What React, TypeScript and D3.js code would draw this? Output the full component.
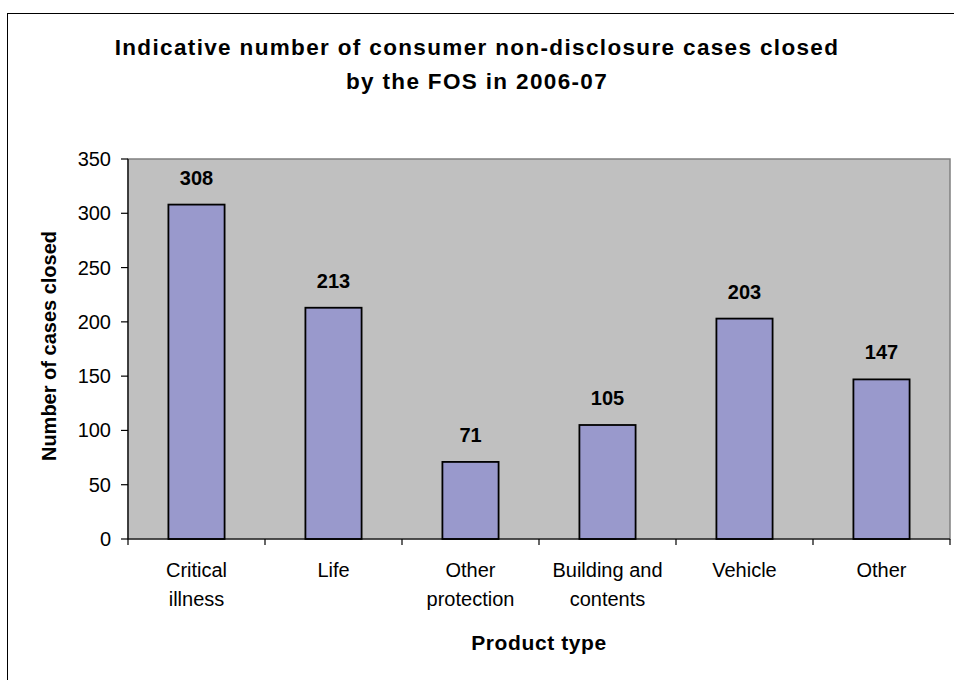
import React from 'react';
import * as d3 from 'd3';

const categories = [
  ['Critical', 'illness'],
  ['Life'],
  ['Other', 'protection'],
  ['Building and', 'contents'],
  ['Vehicle'],
  ['Other'],
];
const categoryKeys = ['Critical illness', 'Life', 'Other protection', 'Building and contents', 'Vehicle', 'Other'];
const casesClosed = [308, 213, 71, 105, 203, 147];
const yTicks = [0, 50, 100, 150, 200, 250, 300, 350];

const titleLines = [
  'Indicative number of consumer non-disclosure cases closed',
  'by the FOS in 2006-07',
];

const W = 954;
const H = 680;
const plot = { left: 128, top: 159, right: 950, bottom: 539 };
const font = '"Liberation Sans", Arial, Helvetica, sans-serif';

export default function App() {
  const x = d3.scaleBand<string>()
    .domain(categoryKeys)
    .range([plot.left, plot.right])
    .paddingInner(0.59)
    .paddingOuter(0.295);

  const y = d3.scaleLinear()
    .domain([0, 350])
    .range([plot.bottom, plot.top]);

  const step = x.step();
  const boundaries = d3.range(categoryKeys.length + 1).map(i => plot.left + i * step);

  return (
    <svg
      width={W}
      height={H}
      style={{ position: 'absolute', left: 0, top: 0, background: '#fff' }}
      fontFamily={font}
    >
      {/* chart area border */}
      <rect x={7.5} y={13.5} width={1000} height={700} fill="#fff" stroke="#000" strokeWidth={1} />

      {/* title */}
      <text x={477} textAnchor="middle" fontSize={22.5} fontWeight="bold" letterSpacing={1.35} fill="#000">
        {titleLines.map((line, i) => (
          <tspan key={i} x={477} y={55 + i * 34}>{line}</tspan>
        ))}
      </text>

      {/* plot area */}
      <rect
        x={plot.left}
        y={plot.top}
        width={plot.right - plot.left}
        height={plot.bottom - plot.top}
        fill="#C0C0C0"
        stroke="#808080"
        strokeWidth={1.5}
      />

      {/* bars */}
      {casesClosed.map((v, i) => (
        <rect
          key={categoryKeys[i]}
          x={x(categoryKeys[i])}
          y={y(v)}
          width={x.bandwidth()}
          height={y(0) - y(v)}
          fill="#9999CC"
          stroke="#000"
          strokeWidth={1.8}
        />
      ))}

      {/* value labels */}
      {casesClosed.map((v, i) => (
        <text
          key={'v' + i}
          x={(x(categoryKeys[i]) ?? 0) + x.bandwidth() / 2}
          y={y(v) - 20}
          textAnchor="middle"
          fontSize={20}
          fontWeight="bold"
          fill="#000"
        >
          {v}
        </text>
      ))}

      {/* y axis */}
      <line x1={plot.left} x2={plot.left} y1={plot.top} y2={plot.bottom} stroke="#000" strokeWidth={1.2} />
      {yTicks.map(t => (
        <g key={t}>
          <line x1={plot.left - 7} x2={plot.left} y1={y(t)} y2={y(t)} stroke="#000" strokeWidth={1.2} />
          <text x={plot.left - 17} y={y(t) + 7} textAnchor="end" fontSize={20} fill="#000">{t}</text>
        </g>
      ))}

      {/* x axis */}
      <line x1={plot.left} x2={plot.right} y1={plot.bottom} y2={plot.bottom} stroke="#000" strokeWidth={1.2} />
      {boundaries.map((b, i) => (
        <line key={i} x1={b} x2={b} y1={plot.bottom} y2={plot.bottom + 6} stroke="#000" strokeWidth={1.2} />
      ))}
      {categories.map((lines, i) => (
        <text
          key={'c' + i}
          textAnchor="middle"
          fontSize={20}
          fill="#000"
        >
          {lines.map((l, j) => (
            <tspan key={j} x={(x(categoryKeys[i]) ?? 0) + x.bandwidth() / 2} y={577 + j * 29}>{l}</tspan>
          ))}
        </text>
      ))}

      {/* axis titles */}
      <text
        x={(plot.left + plot.right) / 2}
        y={650}
        textAnchor="middle"
        fontSize={21}
        fontWeight="bold"
        letterSpacing={0.6}
        fill="#000"
      >
        Product type
      </text>
      <text
        transform={`translate(56,346) rotate(-90)`}
        textAnchor="middle"
        fontSize={20}
        fontWeight="bold"
        fill="#000"
      >
        Number of cases closed
      </text>
    </svg>
  );
}
